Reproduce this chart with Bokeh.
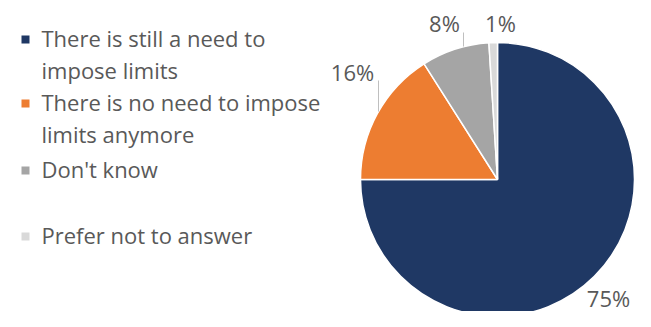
import numpy as np
from bokeh.plotting import figure
from bokeh.models import Range1d, ColumnDataSource
from bokeh.core.properties import value
from bokeh.embed import file_html
from bokeh.resources import INLINE

# ---- data ----
categories = ["There is still a need to impose limits",
              "There is no need to impose limits anymore",
              "Don't know",
              "Prefer not to answer"]
shares = [75, 16, 8, 1]
pct_labels = ["75%", "16%", "8%", "1%"]
legend_lines = [["There is still a need to", "impose limits"],
                ["There is no need to impose", "limits anymore"],
                ["Don't know"],
                ["Prefer not to answer"]]
colors = ["#1F3864", "#ED7D31", "#A5A5A5", "#D9D9D9"]

# ---- layout (figure pixel coordinates, y down) ----
W, H = 635, 311
def Y(py):
    return H - py

cx, cy, R = 497, 179, 137
label_pos = [(608, 297), (352, 71), (444, 22), (500, 22)]
leaders = [None, ((378, 80), (378, 111)), ((463, 32), (463, 46)), None]
legend_rows = [37, 101, 168, 234]
line_gap = 32
text_color = "#595959"
FONT = "Open Sans"
FS = "22px"

p = figure(width=W, height=H, output_backend="svg", toolbar_location=None,
           x_range=Range1d(0, W), y_range=Range1d(0, H), min_border=0)
p.axis.visible = False
p.grid.visible = False
p.outline_line_color = None
p.background_fill_color = "white"
p.border_fill_color = "white"

frac = np.array(shares, dtype=float) / sum(shares)
cum = np.concatenate([[0], np.cumsum(frac)])
start = np.pi / 2 - cum[:-1] * 2 * np.pi
end = np.pi / 2 - cum[1:] * 2 * np.pi
src = ColumnDataSource(dict(x=[cx] * len(shares), y=[Y(cy)] * len(shares),
                            start=start, end=end, color=colors, cat=categories))
p.wedge(x="x", y="y", radius=R, radius_units="screen", start_angle="start",
        end_angle="end", direction="clock", fill_color="color",
        line_color="white", line_width=1.5, source=src)

# leader lines
for ld in leaders:
    if ld:
        (x0, y0), (x1, y1) = ld
        p.line([x0, x1], [Y(y0), Y(y1)], line_color="#BFBFBF", line_width=1)

# percent labels
p.text(x=[lp[0] for lp in label_pos], y=[Y(lp[1]) for lp in label_pos],
       text=pct_labels, text_font=value(FONT), text_font_size=FS,
       text_color=text_color, text_align="center", text_baseline="middle")

# legend
sq_x, sq_y, tx, ty, tt = [], [], [], [], []
for row, lines in zip(legend_rows, legend_lines):
    sq_x.append(25)
    sq_y.append(Y(row + 2))
    for i, ln in enumerate(lines):
        tx.append(41)
        ty.append(Y(row + i * line_gap))
        tt.append(ln)
p.scatter(x=sq_x, y=sq_y, marker="square", size=8, fill_color=colors,
          line_color=None)
p.text(x=tx, y=ty, text=tt, text_font=value(FONT), text_font_size=FS,
       text_color=text_color, text_align="left", text_baseline="middle")

open("out.html", "w").write(file_html(p, INLINE))
